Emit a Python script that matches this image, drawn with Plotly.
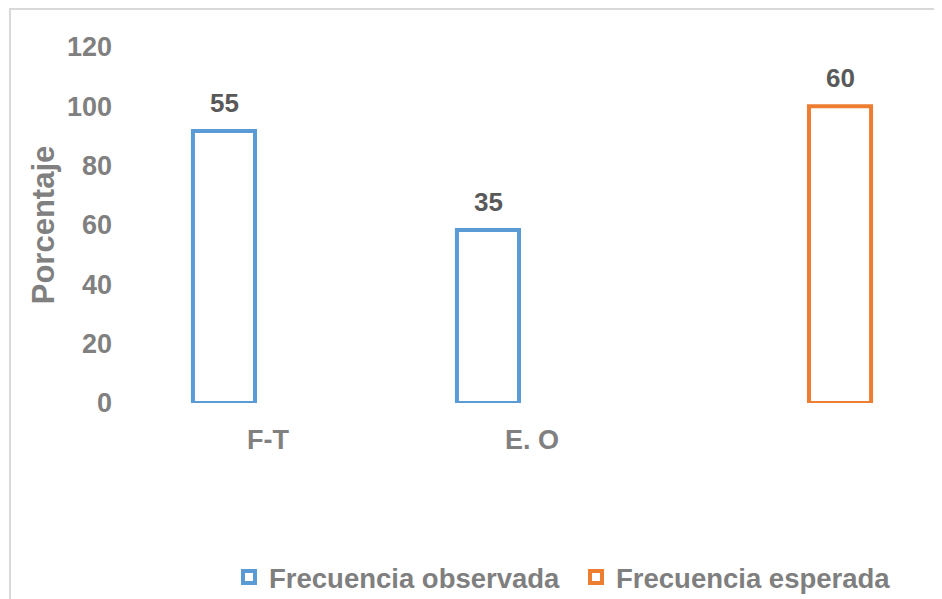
import plotly.graph_objects as go

# Data
categories = ["F-T", "E. O", " "]
observed_pct = [91.7, 58.3, None]     # Frecuencia observada (porcentaje)
expected_pct = [None, None, 100.0]    # Frecuencia esperada (porcentaje)
observed_labels = ["55", "35", ""]
expected_labels = ["", "", "60"]
y_ticks = [0, 20, 40, 60, 80, 100, 120]

BLUE = "#5B9BD5"
ORANGE = "#ED7D31"
FONT = "Liberation Sans, Arial, sans-serif"

# the page body has an 8px default margin; size the figure to fill the window
OFF = 8
W, H = 942 - OFF, 599 - OFF
ML, MR, MT, MB = 136 - OFF, 14, 47 - OFF, 196
PW, PH = W - ML - MR, H - MT - MB


def px_x(x):   # page pixel -> paper fraction
    return (x - OFF - ML) / PW


def px_y(y):
    return (OFF + H - MB - y) / PH


fig = go.Figure()
fig.add_trace(go.Bar(
    name="Frecuencia observada", x=categories, y=observed_pct,
    marker=dict(color="white", line=dict(color=BLUE, width=4)),
    hoverinfo="skip",
))
fig.add_trace(go.Bar(
    name="Frecuencia esperada", x=categories, y=expected_pct,
    marker=dict(color="white", line=dict(color=ORANGE, width=4)),
    hoverinfo="skip",
))

# value labels above bars
slot_shift = 44
for cat, val, lab in zip(categories, observed_pct, observed_labels):
    if val is not None and lab:
        fig.add_annotation(x=cat, y=val, text=f"<b>{lab}</b>", showarrow=False,
                           xshift=-slot_shift, yshift=28,
                           font=dict(family=FONT, size=26, color="#595959"))
for cat, val, lab in zip(categories, expected_pct, expected_labels):
    if val is not None and lab:
        fig.add_annotation(x=cat, y=val, text=f"<b>{lab}</b>", showarrow=False,
                           xshift=slot_shift, yshift=28,
                           font=dict(family=FONT, size=26, color="#595959"))

# light border around the chart area
fig.add_shape(type="rect", xref="paper", yref="paper",
              x0=px_x(10), x1=px_x(942 + 20), y0=px_y(599 + 20), y1=px_y(9),
              line=dict(color="#D9D9D9", width=2), fillcolor="rgba(0,0,0,0)",
              layer="below")

fig.update_layout(
    width=W, height=H,
    margin=dict(l=ML, r=MR, t=MT, b=MB, autoexpand=False),
    paper_bgcolor="white", plot_bgcolor="white",
    barmode="group", bargap=0.333, bargroupgap=0.295,
    font=dict(family=FONT, color="#808080"),
    showlegend=True,
    legend=dict(orientation="h", x=px_x(229), xanchor="left",
                y=px_y(577), yanchor="middle",
                font=dict(family=FONT, size=27.5, color="#7F7F7F", weight="bold"),
                itemwidth=30, entrywidth=302, bgcolor="rgba(0,0,0,0)"),
    xaxis=dict(
        type="category", showgrid=False, zeroline=False, showline=False,
        ticks="", ticklabelstandoff=18, automargin=False,
        tickfont=dict(family=FONT, size=27, color="#808080", weight="bold"),
    ),
    yaxis=dict(
        range=[0, 120], tickvals=y_ticks, showgrid=False, zeroline=False,
        showline=False, ticks="", ticklabelstandoff=23, automargin=False,
        tickfont=dict(family=FONT, size=27, color="#808080", weight="bold"),
        title=dict(text="Porcentaje", standoff=3,
                   font=dict(family=FONT, size=31, color="#808080", weight="bold")),
    ),
)

fig.write_html("out.html")
